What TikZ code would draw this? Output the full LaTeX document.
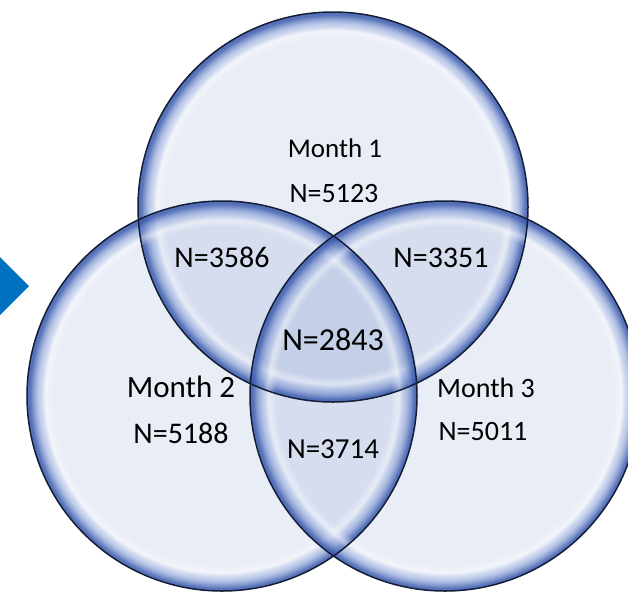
\documentclass[tikz,border=0pt]{standalone}
\usepackage{fontspec}
\setmainfont{Carlito}
\usetikzlibrary{fadings}

\definecolor{kreisblau}{RGB}{40,80,170}
\definecolor{randblau}{RGB}{60,92,175}
\definecolor{hellrand}{RGB}{150,172,222}
\definecolor{linienblau}{RGB}{20,30,55}
\definecolor{pfeilblau}{RGB}{0,112,192}

% Glasrand: Farbe und Deckkraft
\pgfdeclareradialshading{glas}{\pgfpointorigin}{color(0bp)=(white); color(22.6bp)=(white); color(23.4bp)=(hellrand); color(24.6bp)=(randblau); color(50bp)=(randblau)}
\pgfdeclareradialshading{glasmaske}{\pgfpointorigin}{color(0bp)=(pgftransparent!100); color(21.6bp)=(pgftransparent!100); color(22.8bp)=(pgftransparent!45); color(23.4bp)=(pgftransparent!55); color(24.6bp)=(pgftransparent!15); color(50bp)=(pgftransparent!10)}
\pgfdeclarefading{glasfade}{\pgfuseshading{glasmaske}}

\begin{document}
\begin{tikzpicture}[x=1pt,y=-1pt,
  kreis/.style={fill=kreisblau,fill opacity=0.1},
  umriss/.style={draw=linienblau,line width=1.5pt},
  zahl/.style={anchor=base,inner sep=0pt,font=\fontsize{#1}{#1}\selectfont},
  zahl/.default=28]

% Rahmen
\useasboundingbox (0,0) rectangle (628,592);
\clip (0,0) rectangle (628,592);

% Mittelpunkte der drei Kreise
\coordinate (M1) at (333,207);
\coordinate (M2) at (222,396);
\coordinate (M3) at (445,396);

% Pfeilspitze links
\fill[pfeilblau] (0,257) -- (29,286) -- (0,315) -- cycle;

% Flaechen
\foreach \m in {M1,M2,M3} \fill[kreis] (\m) circle (195);

% Rand mit Glanz
\foreach \m in {M1,M2,M3} \shade[shading=glas,path fading=glasfade] (\m) circle (195);

% Umrisse
\foreach \m in {M1,M2,M3} \draw[umriss] (\m) circle (195);

% Month 1 oben
\node[zahl=27] (m1) at (335,157) {Month 1};
\node[zahl] (n1) at (334,202) {N=5123};

% Schnittmengen
\node[zahl=30] (n12) at (222,267) {N=3586};
\node[zahl=30] (n13) at (441,267) {N=3351};
\node[zahl=32] (n123) at (333,350) {N=2843};
\node[zahl=29] (n23) at (333,458) {N=3714};

% Month 2 links
\node[zahl=31] (m2) at (181,397) {Month 2};
\node[zahl=30] (n2) at (181,443) {N=5188};

% Month 3 rechts
\node[zahl] (m3) at (486,397) {Month 3};
\node[zahl] (n3) at (483,440) {N=5011};

\end{tikzpicture}
\end{document}
